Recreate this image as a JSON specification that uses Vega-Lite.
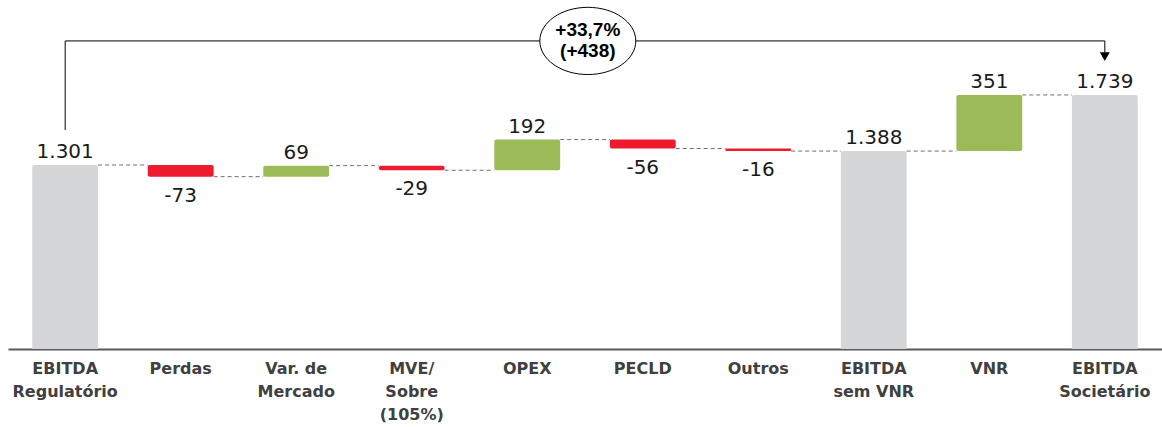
{
  "$schema": "https://vega.github.io/schema/vega-lite/v6.json",
  "width": 1154,
  "height": 349,
  "autosize": {"type": "none"},
  "padding": {"left": 8, "top": 0, "right": 0, "bottom": 78},
  "background": "white",
  "config": {"view": {"stroke": null}, "axis": {"grid": false}},
  "datasets": {
    "steps": [
      {"cat": "EBITDA|Regulatório", "start": 0, "end": 1301, "kind": "total", "text": "1.301"},
      {"cat": "Perdas", "start": 1301, "end": 1228, "kind": "decrease", "text": "-73"},
      {"cat": "Var. de|Mercado", "start": 1228, "end": 1297, "kind": "increase", "text": "69"},
      {"cat": "MVE/|Sobre|(105%)", "start": 1297, "end": 1268, "kind": "decrease", "text": "-29"},
      {"cat": "OPEX", "start": 1268, "end": 1460, "kind": "increase", "text": "192"},
      {"cat": "PECLD", "start": 1460, "end": 1404, "kind": "decrease", "text": "-56"},
      {"cat": "Outros", "start": 1404, "end": 1388, "kind": "decrease", "text": "-16"},
      {"cat": "EBITDA|sem VNR", "start": 0, "end": 1388, "kind": "total", "text": "1.388"},
      {"cat": "VNR", "start": 1388, "end": 1739, "kind": "increase", "text": "351"},
      {"cat": "EBITDA|Societário", "start": 0, "end": 1739, "kind": "total", "text": "1.739"}
    ],
    "links": [
      {"cat": "EBITDA|Regulatório", "next": "Perdas", "level": 1301},
      {"cat": "Perdas", "next": "Var. de|Mercado", "level": 1228},
      {"cat": "Var. de|Mercado", "next": "MVE/|Sobre|(105%)", "level": 1297},
      {"cat": "MVE/|Sobre|(105%)", "next": "OPEX", "level": 1268},
      {"cat": "OPEX", "next": "PECLD", "level": 1460},
      {"cat": "PECLD", "next": "Outros", "level": 1404},
      {"cat": "Outros", "next": "EBITDA|sem VNR", "level": 1388},
      {"cat": "EBITDA|sem VNR", "next": "VNR", "level": 1388},
      {"cat": "VNR", "next": "EBITDA|Societário", "level": 1739}
    ],
    "bracket": [{"cat": "EBITDA|Regulatório", "next": "EBITDA|Societário", "level": 2077}],
    "legs": [
      {"cat": "EBITDA|Regulatório", "low": 1520, "high": 2077},
      {"cat": "EBITDA|Societário", "low": 1979, "high": 2077}
    ],
    "arrow": [{"cat": "EBITDA|Societário", "level": 1979}],
    "badge": [{"cat": "OPEX", "level": 2077, "text": "+33,7%|(+438)"}]
  },
  "layer": [
    {
      "data": {"name": "links"},
      "mark": {"type": "rule", "color": "#6f6f6f", "strokeWidth": 1, "strokeDash": [4, 3]},
      "encoding": {
        "x": {"field": "cat", "type": "nominal", "bandPosition": 1, "title": null},
        "x2": {"field": "next", "bandPosition": 0},
        "y": {"field": "level", "type": "quantitative", "title": null, "axis": null, "scale": {"domain": [150, 2333], "zero": false, "nice": false}}
      }
    },
    {
      "data": {"name": "steps"},
      "mark": {"type": "bar", "clip": true, "cornerRadius": 2},
      "encoding": {
        "x": {
          "field": "cat", "type": "nominal", "title": null,
          "scale": {
            "domain": ["EBITDA|Regulatório", "Perdas", "Var. de|Mercado", "MVE/|Sobre|(105%)", "OPEX", "PECLD", "Outros", "EBITDA|sem VNR", "VNR", "EBITDA|Societário"],
            "paddingInner": 0.43, "paddingOuter": 0.21
          },
          "axis": {
            "bandPosition": 0.5,
            "labelExpr": "split(datum.label, '|')",
            "labelAngle": 0,
            "labelAlign": "center",
            "labelFont": "DejaVu Sans",
            "labelFontWeight": "bold",
            "labelFontSize": 16,
            "labelColor": "#404040",
            "labelLineHeight": 23,
            "labelPadding": 19,
            "labelOverlap": false,
            "labelBound": false,
            "labelLimit": 0,
            "ticks": false,
            "domainColor": "#595959",
            "domainWidth": 2
          }
        },
        "y": {"field": "start", "type": "quantitative", "title": null, "axis": null, "scale": {"domain": [150, 2333], "zero": false, "nice": false}},
        "y2": {"field": "end"},
        "color": {
          "field": "kind", "type": "nominal", "legend": null,
          "scale": {"domain": ["total", "increase", "decrease"], "range": ["#D5D6D8", "#9BBB59", "#ED1B2E"]}
        }
      }
    },
    {
      "data": {"name": "steps"},
      "transform": [{"filter": "datum.kind !== 'decrease'"}],
      "mark": {"type": "text", "font": "DejaVu Sans", "fontSize": 20, "color": "#1a1a1a", "baseline": "alphabetic", "dy": -7},
      "encoding": {
        "x": {"field": "cat", "type": "nominal", "title": null},
        "y": {"field": "end", "type": "quantitative", "title": null, "axis": null, "scale": {"domain": [150, 2333], "zero": false, "nice": false}},
        "text": {"field": "text", "type": "nominal"}
      }
    },
    {
      "data": {"name": "steps"},
      "transform": [{"filter": "datum.kind === 'decrease'"}],
      "mark": {"type": "text", "font": "DejaVu Sans", "fontSize": 20, "color": "#1a1a1a", "baseline": "alphabetic", "dy": 25},
      "encoding": {
        "x": {"field": "cat", "type": "nominal", "title": null},
        "y": {"field": "end", "type": "quantitative", "title": null, "axis": null, "scale": {"domain": [150, 2333], "zero": false, "nice": false}},
        "text": {"field": "text", "type": "nominal"}
      }
    },
    {
      "data": {"name": "bracket"},
      "mark": {"type": "rule", "color": "#000000", "strokeWidth": 1},
      "encoding": {
        "x": {"field": "cat", "type": "nominal", "title": null},
        "x2": {"field": "next"},
        "y": {"field": "level", "type": "quantitative", "title": null, "axis": null, "scale": {"domain": [150, 2333], "zero": false, "nice": false}}
      }
    },
    {
      "data": {"name": "legs"},
      "mark": {"type": "rule", "color": "#000000", "strokeWidth": 1},
      "encoding": {
        "x": {"field": "cat", "type": "nominal", "title": null},
        "y": {"field": "low", "type": "quantitative", "title": null, "axis": null, "scale": {"domain": [150, 2333], "zero": false, "nice": false}},
        "y2": {"field": "high"}
      }
    },
    {
      "data": {"name": "arrow"},
      "mark": {"type": "point", "shape": "triangle-down", "size": 100, "filled": true, "fill": "#000000", "opacity": 1},
      "encoding": {
        "x": {"field": "cat", "type": "nominal", "title": null},
        "y": {"field": "level", "type": "quantitative", "title": null, "axis": null, "scale": {"domain": [150, 2333], "zero": false, "nice": false}}
      }
    },
    {
      "data": {"name": "badge"},
      "mark": {"type": "point", "shape": "M-1,0A1,0.7,0,1,0,1,0A1,0.7,0,1,0,-1,0Z", "size": 9216, "filled": true, "fill": "#ffffff", "stroke": "#000000", "strokeWidth": 1, "opacity": 1, "fillOpacity": 1, "strokeOpacity": 1},
      "encoding": {
        "x": {"field": "cat", "type": "nominal", "title": null, "bandPosition": 1.42},
        "y": {"field": "level", "type": "quantitative", "title": null, "axis": null, "scale": {"domain": [150, 2333], "zero": false, "nice": false}}
      }
    },
    {
      "data": {"name": "badge"},
      "mark": {"type": "text", "font": "Liberation Sans", "fontWeight": "bold", "fontSize": 19, "lineBreak": "|", "lineHeight": 21, "baseline": "middle", "align": "center", "color": "#000000", "dy": -11},
      "encoding": {
        "x": {"field": "cat", "type": "nominal", "title": null, "bandPosition": 1.42},
        "y": {"field": "level", "type": "quantitative", "title": null, "axis": null, "scale": {"domain": [150, 2333], "zero": false, "nice": false}},
        "text": {"field": "text", "type": "nominal"}
      }
    }
  ]
}
